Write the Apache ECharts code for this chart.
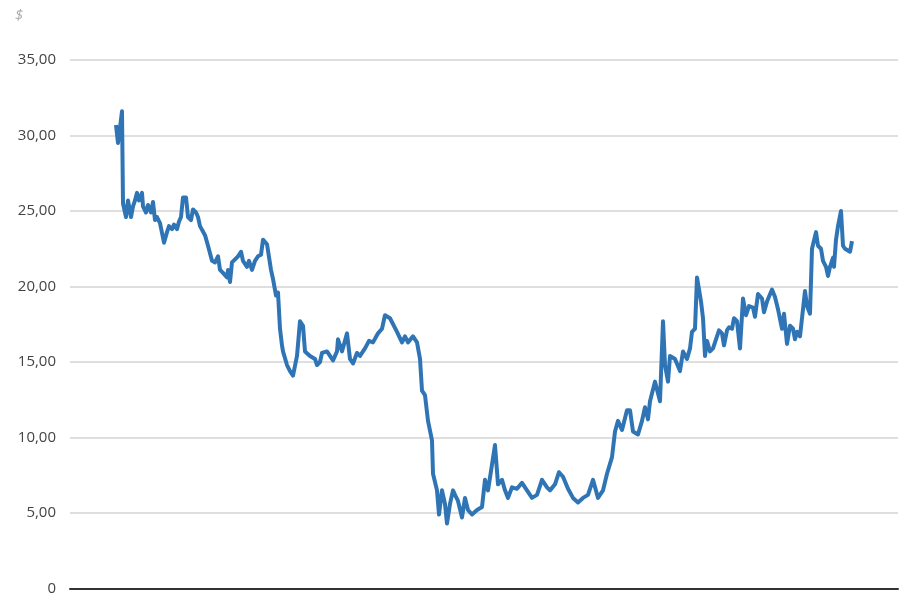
<!DOCTYPE html>
<html>
<head>
<meta charset="utf-8">
<script src="https://cdn.jsdelivr.net/npm/echarts@6/dist/echarts.min.js"></script>
<style>html,body{margin:0;padding:0;background:#fff;}#chart{width:910px;height:596px;}</style>
</head>
<body>
<div id="chart"></div>
<script>
// Days since start of series
const days = [0,10,20,30,35,50,60,75,85,95,105,115,130,135,150,160,175,185,195,205,220,240,255,265,280,290,305,315,325,335,350,360,375,385,400,410,420,445,460,480,495,510,520,535,555,560,570,580,595,610,625,635,655,665,680,695,710,725,735,755,765,775,785,800,810,820,
830,835,855,870,885,905,920,935,945,970,995,1005,1020,1030,1055,1070,1085,1105,1110,1130,1155,1170,1185,1205,1220,1245,1265,1285,1310,1330,1345,1370,1405,1430,1445,1460,1485,1505,1520,1530,1545,1560,1580,1585,1605,1615,1630,1645,1655,1670,1685,1695,1710,1730,1745,1760,1780,1805,1830,1845,1860,1880,1895,1910,1930,1945,1960,1980,2005,2030,2055,2080,2105,2130,2155,2170,2195,2215,2235,2260,2285,2310,2335,2360,2385,2410,2435,2455,2480,2495,2510,2530,2555,2570,2585,2610,2630,2645,2660,2670,2695,2720,2735,2745,2760,2770,2795,2820,2835,2855,2870,
2880,2895,2905,2925,2935,2945,2955,2970,2985,2995,3005,3015,3030,3040,3055,3065,3080,3090,3105,3120,3135,3150,3165,3185,3195,3210,3230,3240,3255,3280,3295,3310,3330,3340,3355,3370,3385,3395,3405,3420,3435,3445,3455,3470,3480,3490,3500,3510,3525,3535,3550,3560,3570,3585,3590,3600,3610,3625,3635,3645,3655,3670,3680];
// Price in $
const prices = [30.7,29.5,30.5,31.6,25.5,24.6,25.7,24.6,25.3,25.7,26.2,25.7,26.2,25.3,24.9,25.4,24.9,25.6,24.4,24.6,24.2,22.9,23.6,24.0,23.8,24.1,23.8,24.3,24.6,25.9,25.9,24.6,24.4,25.1,24.9,24.6,24.0,23.4,22.7,21.7,21.6,22.0,21.1,20.9,20.6,21.1,20.3,21.6,21.8,22.0,22.3,21.7,21.3,21.7,21.1,21.7,22.0,22.1,23.1,22.8,22.7,21.1,20.5,19.4,19.6,17.2,
16.1,15.7,14.8,14.4,14.1,15.4,17.7,17.4,15.7,15.4,15.2,14.8,15.0,15.6,15.7,15.4,15.1,15.7,16.5,15.7,16.9,15.2,14.9,15.6,15.4,15.9,16.4,16.3,16.9,17.2,18.1,17.9,17.0,16.3,16.7,16.3,16.7,16.3,15.2,13.1,12.8,11.1,9.8,7.6,6.5,4.9,6.5,5.6,4.3,5.6,6.5,6.2,5.8,4.7,6.0,5.2,4.9,5.2,5.4,7.2,6.5,8.2,9.5,6.9,7.2,6.5,6.0,6.7,6.6,7.0,6.5,6.0,6.2,7.2,6.7,6.5,6.9,7.7,7.4,6.6,6.0,5.7,6.0,6.2,7.2,6.0,6.5,7.6,8.7,10.4,11.1,10.5,11.8,11.8,10.4,10.2,11.1,12.0,11.2,12.4,13.7,12.4,17.7,14.8,13.7,15.4,15.2,14.4,15.7,15.2,15.9,
17.0,17.2,20.6,19.0,17.9,15.4,16.4,15.7,15.9,15.8,16.7,17.1,16.9,16.1,17.1,17.3,17.2,17.9,17.7,15.9,19.2,18.1,18.7,18.6,18.0,19.5,19.2,18.3,19.0,19.8,19.3,18.5,17.2,18.2,16.2,17.4,17.2,16.5,17.0,16.7,18.5,19.7,18.7,18.2,22.5,22.5,23.6,22.7,22.5,21.7,21.3,20.7,21.3,21.9,21.3,23.1,24.0,25.0,22.7,22.5,22.6,22.3,23.0];
const yTicks = [0,5,10,15,20,25,30,35];

const seriesData = days.map((d, i) => [d, prices[i]]);

const chart = echarts.init(document.getElementById('chart'));
chart.setOption({
  animation: false,
  backgroundColor: '#fff',
  title: {
    text: '$', left: 10, top: 3,
    textStyle: { color: '#aaaaaa', fontSize: 15, fontWeight: 'normal', fontStyle: 'italic', fontFamily: 'Open Sans' }
  },
  grid: { left: 70, right: 12, top: 60, bottom: 3, containLabel: false },
  xAxis: {
    type: 'value', min: -230, max: 3910,
    axisLine: { show: true, onZero: false, lineStyle: { color: '#333', width: 2 } },
    axisTick: { show: false }, axisLabel: { show: false }, splitLine: { show: false }
  },
  yAxis: {
    type: 'value', min: yTicks[0], max: yTicks[yTicks.length - 1], interval: 5,
    axisLine: { show: false }, axisTick: { show: false },
    axisLabel: {
      margin: 14, color: '#444', fontSize: 15, fontFamily: 'Open Sans',
      formatter: v => v === 0 ? '0' : v.toFixed(2).replace('.', ',')
    },
    splitLine: { lineStyle: { color: '#d4d4d4', width: 1.5 } }
  },
  series: [{
    type: 'line', data: seriesData, showSymbol: false,
    lineStyle: { color: '#2f75b5', width: 4, join: 'round' },
    z: 3
  }]
});
</script>
</body>
</html>
